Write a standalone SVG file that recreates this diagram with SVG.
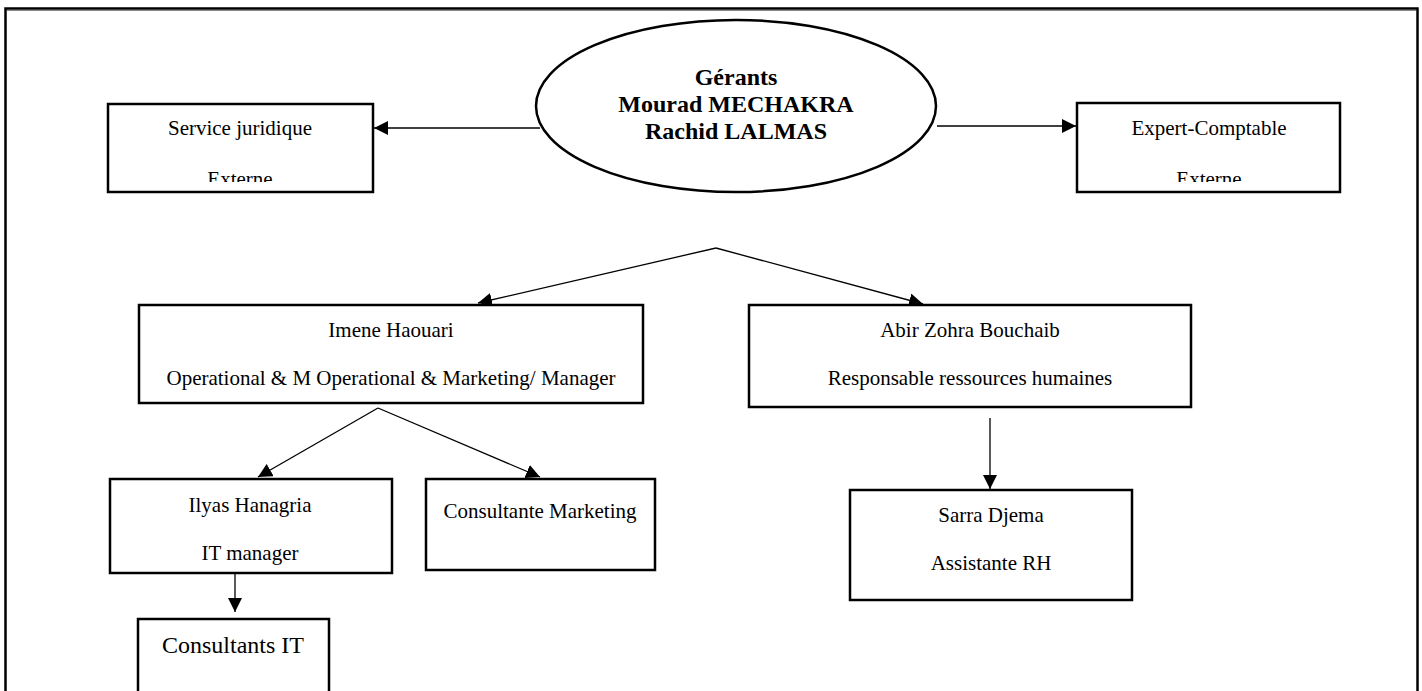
<svg xmlns="http://www.w3.org/2000/svg" width="1422" height="691" viewBox="0 0 1422 691">
<style>
.box{fill:#fff;stroke:#000;stroke-width:2.5}
.t{font-family:"Liberation Serif","Times New Roman",serif;font-size:21px;fill:#000;text-anchor:middle}
.b{font-family:"Liberation Serif","Times New Roman",serif;font-size:24px;font-weight:bold;fill:#000;text-anchor:middle}
.c{stroke:#000;stroke-width:1.3;fill:none}
</style>
<defs>
<marker id="ah" viewBox="0 0 12 12" refX="12" refY="6" markerWidth="14" markerHeight="14" markerUnits="userSpaceOnUse" orient="auto">
<path d="M0,0 L12,6 L0,12 Z" fill="#000"/>
</marker>
<clipPath id="cj"><rect x="108" y="104" width="265" height="78"/></clipPath>
<clipPath id="ce"><rect x="1077" y="103" width="263" height="79"/></clipPath>
</defs>
<rect width="1422" height="691" fill="#fff"/>
<g id="frame">
<rect x="5.5" y="8.5" width="1412" height="700" fill="none" stroke="#000" stroke-width="2.5"/>
<line x1="7" y1="10.5" x2="1416" y2="10.5" stroke="#888" stroke-width="1"/>
</g>
<g id="connectors">
<line class="c" x1="540" y1="128" x2="374" y2="128" marker-end="url(#ah)"/>
<line class="c" x1="937" y1="126" x2="1076" y2="126" marker-end="url(#ah)"/>
<line class="c" x1="716" y1="248" x2="478" y2="303" marker-end="url(#ah)"/>
<line class="c" x1="716" y1="248" x2="923" y2="304" marker-end="url(#ah)"/>
<line class="c" x1="378" y1="408" x2="258" y2="477" marker-end="url(#ah)"/>
<line class="c" x1="378" y1="408" x2="540" y2="477" marker-end="url(#ah)"/>
<line class="c" x1="235" y1="574" x2="235" y2="612" marker-end="url(#ah)"/>
<line class="c" x1="990" y1="418" x2="990" y2="489" marker-end="url(#ah)"/>
</g>
<g id="gerants">
<ellipse cx="736" cy="106" rx="200" ry="86" fill="#fff" stroke="#000" stroke-width="2.5"/>
<text class="b" x="736" y="85">Gérants</text>
<text class="b" x="736" y="112">Mourad MECHAKRA</text>
<text class="b" x="736" y="139">Rachid LALMAS</text>
</g>
<g id="service-juridique">
<rect class="box" x="108" y="104" width="265" height="88"/>
<text class="t" x="240" y="135">Service juridique</text>
<text class="t" x="240" y="186" clip-path="url(#cj)">Externe</text>
</g>
<g id="expert-comptable">
<rect class="box" x="1077" y="103" width="263" height="89"/>
<text class="t" x="1209" y="135">Expert-Comptable</text>
<text class="t" x="1209" y="186" clip-path="url(#ce)">Externe</text>
</g>
<g id="imene">
<rect class="box" x="139" y="305" width="504" height="98"/>
<text class="t" x="391" y="337">Imene Haouari</text>
<text class="t" x="391" y="385">Operational &amp; M Operational &amp; Marketing/ Manager</text>
</g>
<g id="abir">
<rect class="box" x="749" y="305" width="442" height="102"/>
<text class="t" x="970" y="337">Abir Zohra Bouchaib</text>
<text class="t" x="970" y="385">Responsable ressources humaines</text>
</g>
<g id="ilyas">
<rect class="box" x="110" y="479" width="282" height="94"/>
<text class="t" x="250" y="512">Ilyas Hanagria</text>
<text class="t" x="250" y="560">IT manager</text>
</g>
<g id="consultante-marketing">
<rect class="box" x="426" y="479" width="229" height="91"/>
<text class="t" x="540" y="518">Consultante Marketing</text>
</g>
<g id="sarra">
<rect class="box" x="850" y="490" width="282" height="110"/>
<text class="t" x="991" y="522">Sarra Djema</text>
<text class="t" x="991" y="570">Assistante RH</text>
</g>
<g id="consultants-it">
<rect class="box" x="138" y="619" width="191" height="100"/>
<text class="t" x="233" y="653" style="font-size:24px">Consultants IT</text>
</g>
</svg>
